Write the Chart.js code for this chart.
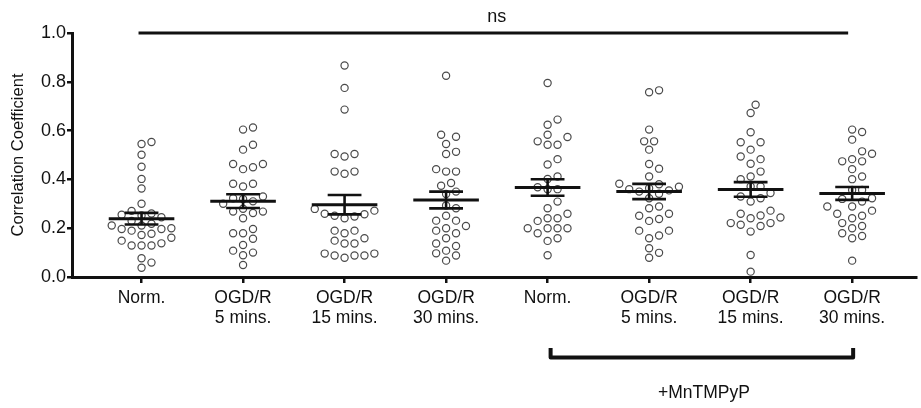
<!DOCTYPE html>
<html>
<head>
<meta charset="utf-8">
<script src="https://cdn.jsdelivr.net/npm/chart.js@4"></script>
<style>
  html, body { margin: 0; padding: 0; background: #fff; }
  #wrap { width: 921px; height: 408px; position: relative; }
</style>
</head>
<body>
<div id="wrap"><canvas id="chart"></canvas></div>
<script>
// categorias del eje x (una por grupo)
const categories = [
  ["Norm."], ["OGD/R", "5 mins."], ["OGD/R", "15 mins."], ["OGD/R", "30 mins."],
  ["Norm."], ["OGD/R", "5 mins."], ["OGD/R", "15 mins."], ["OGD/R", "30 mins."]
];
const yTicks = [0, 0.2, 0.4, 0.6, 0.8, 1.0];
const sigLabel = "ns";
const treatLabel = "+MnTMPyP";

// valores (coeficiente de correlacion por celula)
const norm = [0.553, 0.545, 0.501, 0.452, 0.402, 0.363, 0.300, 0.271, 0.260, 0.252, 0.245, 0.255,
  0.230, 0.218, 0.211, 0.197, 0.190, 0.197, 0.211, 0.200, 0.177, 0.161, 0.172, 0.129, 0.129,
  0.129, 0.138, 0.149, 0.077, 0.059, 0.038];
const ogd5 = [0.604, 0.613, 0.522, 0.542, 0.463, 0.450, 0.442, 0.463, 0.382, 0.382, 0.371, 0.323,
  0.330, 0.310, 0.300, 0.268, 0.241, 0.262, 0.268, 0.179, 0.197, 0.157, 0.179, 0.131, 0.100,
  0.089, 0.108, 0.049, 0.320, 0.280];
const ogd15 = [0.867, 0.775, 0.686, 0.494, 0.504, 0.504, 0.432, 0.432, 0.423, 0.248, 0.257, 0.272,
  0.279, 0.241, 0.251, 0.259, 0.179, 0.190, 0.190, 0.149, 0.137, 0.159, 0.137, 0.088, 0.096,
  0.088, 0.096, 0.079, 0.088];
const ogd30 = [0.825, 0.583, 0.575, 0.545, 0.513, 0.504, 0.432, 0.432, 0.442, 0.385, 0.374, 0.350,
  0.340, 0.293, 0.282, 0.251, 0.231, 0.231, 0.190, 0.200, 0.209, 0.179, 0.159, 0.127, 0.137,
  0.108, 0.097, 0.067, 0.088];
const mnNorm = [0.795, 0.624, 0.645, 0.556, 0.574, 0.542, 0.583, 0.542, 0.483, 0.461, 0.412, 0.402,
  0.360, 0.368, 0.360, 0.309, 0.282, 0.259, 0.241, 0.241, 0.230, 0.200, 0.200, 0.200, 0.200,
  0.179, 0.159, 0.148, 0.089];
const mnOgd5 = [0.757, 0.765, 0.604, 0.556, 0.556, 0.522, 0.463, 0.444, 0.412, 0.382, 0.364, 0.350,
  0.323, 0.341, 0.289, 0.282, 0.251, 0.238, 0.259, 0.230, 0.190, 0.190, 0.170, 0.159, 0.118,
  0.099, 0.079, 0.360, 0.370, 0.355, 0.380];
const mnOgd15 = [0.706, 0.672, 0.593, 0.552, 0.552, 0.522, 0.483, 0.494, 0.464, 0.432, 0.412, 0.401,
  0.371, 0.371, 0.344, 0.330, 0.323, 0.309, 0.272, 0.244, 0.241, 0.209, 0.214, 0.186, 0.259,
  0.221, 0.252, 0.221, 0.090, 0.022];
const mnOgd30 = [0.604, 0.594, 0.563, 0.483, 0.505, 0.474, 0.442, 0.515, 0.474, 0.412, 0.401, 0.320,
  0.309, 0.272, 0.241, 0.209, 0.179, 0.289, 0.251, 0.221, 0.159, 0.067, 0.289, 0.259, 0.200,
  0.168, 0.323, 0.357, 0.357];

const groups = [norm, ogd5, ogd15, ogd30, mnNorm, mnOgd5, mnOgd15, mnOgd30];

// geometria fija del area del grafico
const AREA = { left: 72, right: 921, top: 33, bottom: 277 };
const X_MIN = -0.685, X_MAX = 7.627;
const PX_PER_X = (AREA.right - AREA.left) / (X_MAX - X_MIN);
const PX_PER_Y = AREA.bottom - AREA.top;
const MEAN_HALF = 33 / PX_PER_X;
const CAP_HALF = 17 / PX_PER_X;

// reparto tipo "beeswarm" para que no se pisen los puntos
function swarm(values, center) {
  const placed = [];
  const out = new Array(values.length);
  const order = values.map((v, i) => i).sort((a, b) => values[a] - values[b]);
  order.forEach(i => {
    const py = values[i] * PX_PER_Y;
    for (let k = 0; k < 40; k++) {
      const off = (k % 2 ? 1 : -1) * Math.ceil(k / 2) * 5;
      if (placed.every(p => (p.x - off) ** 2 + (p.y - py) ** 2 >= 9.4 * 9.4)) {
        placed.push({ x: off, y: py });
        out[i] = { x: center + off / PX_PER_X, y: values[i] };
        break;
      }
    }
  });
  return out;
}

function stats(values) {
  const n = values.length;
  const mean = values.reduce((a, b) => a + b, 0) / n;
  const sd = Math.sqrt(values.reduce((a, b) => a + (b - mean) ** 2, 0) / (n - 1));
  return { mean, sem: sd / Math.sqrt(n) };
}

const points = [];
const meanLines = [];
const semLines = [];
groups.forEach((vals, g) => {
  points.push(...swarm(vals, g));
  const s = stats(vals);
  meanLines.push({ x: g - MEAN_HALF, y: s.mean }, { x: g + MEAN_HALF, y: s.mean }, { x: g, y: null });
  semLines.push({ x: g - CAP_HALF, y: s.mean + s.sem }, { x: g + CAP_HALF, y: s.mean + s.sem }, { x: g, y: null });
  semLines.push({ x: g - CAP_HALF, y: s.mean - s.sem }, { x: g + CAP_HALF, y: s.mean - s.sem }, { x: g, y: null });
  semLines.push({ x: g, y: s.mean - s.sem }, { x: g, y: s.mean + s.sem }, { x: g, y: null });
});

const FONT = '"Liberation Sans", Arial, Helvetica, sans-serif';
Chart.defaults.font.family = FONT;
Chart.defaults.color = "#111";

const annotations = {
  id: "annotations",
  afterDraw(chart) {
    const { ctx, scales: { x, y } } = chart;
    ctx.save();
    ctx.strokeStyle = "#111";
    ctx.fillStyle = "#111";
    // linea de significacion
    ctx.lineWidth = 3;
    const yTop = y.getPixelForValue(1.0);
    ctx.beginPath();
    ctx.moveTo(x.getPixelForValue(0) - 3, yTop);
    ctx.lineTo(x.getPixelForValue(categories.length - 1) - 4, yTop);
    ctx.stroke();
    ctx.font = "18px " + FONT;
    ctx.textAlign = "center";
    ctx.textBaseline = "middle";
    ctx.fillText(sigLabel, (x.getPixelForValue(0) + x.getPixelForValue(categories.length - 1)) / 2, 17);
    // corchete del tratamiento
    const bx0 = x.getPixelForValue(4) + 3;
    const bx1 = x.getPixelForValue(7) + 1;
    ctx.lineWidth = 4;
    ctx.lineJoin = "round";
    ctx.beginPath();
    ctx.moveTo(bx0, 348);
    ctx.lineTo(bx0, 357.5);
    ctx.lineTo(bx1, 357.5);
    ctx.lineTo(bx1, 348);
    ctx.stroke();
    ctx.font = "17.5px " + FONT;
    ctx.fillText(treatLabel, (bx0 + bx1) / 2 + 2, 393);
    ctx.restore();
  }
};

new Chart(document.getElementById("chart"), {
  type: "scatter",
  data: {
    datasets: [
      {
        data: points,
        pointStyle: "circle",
        pointRadius: 3.6,
        pointBorderWidth: 1.2,
        pointBorderColor: "#4a4a4a",
        pointBackgroundColor: "#ffffff",
        showLine: false,
        clip: false,
        order: 2
      },
      {
        data: meanLines,
        showLine: true,
        spanGaps: false,
        borderColor: "#111",
        borderWidth: 3,
        pointRadius: 0,
        clip: false,
        order: 1
      },
      {
        data: semLines,
        showLine: true,
        spanGaps: false,
        borderColor: "#111",
        borderWidth: 2.6,
        pointRadius: 0,
        clip: false,
        order: 1
      }
    ]
  },
  options: {
    responsive: true,
    maintainAspectRatio: false,
    animation: false,
    layout: { padding: { top: AREA.top, left: 0, right: 0, bottom: 0 } },
    plugins: { legend: { display: false }, tooltip: { enabled: false } },
    scales: {
      x: {
        type: "linear",
        min: X_MIN,
        max: X_MAX,
        afterFit: s => { s.height = 408 - AREA.bottom; },
        afterBuildTicks: s => { s.ticks = categories.map((c, i) => ({ value: i })); },
        border: { color: "#111", width: 3 },
        grid: { drawOnChartArea: false, drawTicks: true, tickLength: 6, lineWidth: 2.5, color: "#111" },
        ticks: {
          padding: 5,
          autoSkip: false,
          maxRotation: 0,
          font: { size: 17.5, lineHeight: 1.15 },
          color: "#111",
          callback: v => categories[v]
        }
      },
      y: {
        min: 0,
        max: 1,
        afterFit: s => { s.width = AREA.left; },
        afterBuildTicks: s => { s.ticks = yTicks.map(v => ({ value: v })); },
        border: { color: "#111", width: 3 },
        grid: { drawOnChartArea: false, drawTicks: true, tickLength: 5, lineWidth: 2.5, color: "#111" },
        ticks: {
          padding: 1,
          font: { size: 18 },
          color: "#111",
          callback: v => v.toFixed(1)
        },
        title: {
          display: true,
          text: "Correlation Coefficient",
          font: { size: 16.5 },
          color: "#111",
          padding: { top: 9, bottom: 0 }
        }
      }
    }
  },
  plugins: [annotations]
});
</script>
</body>
</html>
